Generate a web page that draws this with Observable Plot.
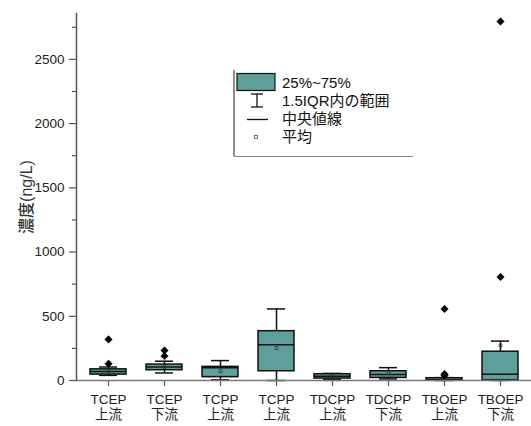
<!DOCTYPE html>
<html>
<head>
<meta charset="utf-8">
<script src="https://cdn.jsdelivr.net/npm/d3@7"></script>
<script src="https://cdn.jsdelivr.net/npm/@observablehq/plot@0.6"></script>
<style>
  body { margin: 0; background: white; }
  #wrap { position: relative; width: 531px; height: 426px; }
  #legend { position: absolute; left: 0; top: 0; }
</style>
</head>
<body>
<div id="wrap"></div>
<script>
// ---- data ----
const groups = ["TCEP\n上流","TCEP\n下流","TCPP\n上流","TCPP\n上流","TDCPP\n上流","TDCPP\n下流","TBOEP\n上流","TBOEP\n下流"];
const q1 =          [46,  80,  26,  72, 15, 20,  1,   2];
const median =      [70, 105, 100, 279, 33, 46,  8,  49];
const q3 =          [87, 124, 106, 384, 49, 72, 18, 224];
const whiskerLow =  [40,  59,   5,   0, 10, 12,  0,   0];
const whiskerHigh = [105, 150, 155, 557, 55, 100, 22, 307];
const means =       [72, 104,  72, 252, 32, 55, 10, 273];
const outlierGroup = [0, 0, 1, 1, 6, 6, 6, 7, 7];
const outlierValue = [131, 320, 190, 234, 38, 50, 557, 806, 2795];
const legendLabels = ["25%~75%", "1.5IQR内の範囲", "中央値線", "平均"];
const yTicks = [0, 500, 1000, 1500, 2000, 2500];
const yMinorTicks = [250, 750, 1250, 1750, 2250, 2750];

const idx = d3.range(groups.length);
const boxes = idx.map(i => ({i, q1: q1[i], q3: q3[i], med: median[i], lo: whiskerLow[i], hi: whiskerHigh[i], mean: means[i]}));
const outliers = outlierGroup.map((g, k) => ({i: g, v: outlierValue[k]}));

const teal = "#5e9e9b";
const font = "'Liberation Sans', 'Noto Sans CJK JP', sans-serif";

const chart = Plot.plot({
  width: 531, height: 426,
  marginLeft: 76, marginRight: 0, marginTop: 13, marginBottom: 46,
  style: {fontFamily: font, fontSize: "13.5px", color: "#222", background: "white", overflow: "visible"},
  x: {type: "band", domain: idx, padding: 0, axis: null},
  y: {domain: [0, 2857], axis: null},
  marks: [
    // whiskers
    Plot.ruleX(boxes, {x: "i", y1: "lo", y2: "q1", stroke: "#111", strokeWidth: 1.5}),
    Plot.ruleX(boxes, {x: "i", y1: "q3", y2: "hi", stroke: "#111", strokeWidth: 1.5}),
    Plot.tickY(boxes, {x: "i", y: "hi", stroke: "#111", strokeWidth: 1.5, insetLeft: 19, insetRight: 19}),
    Plot.tickY(boxes, {x: "i", y: "lo", stroke: "#111", strokeWidth: 1.5, insetLeft: 19, insetRight: 19}),
    // boxes
    Plot.barY(boxes, {x: "i", y1: "q1", y2: "q3", fill: teal, stroke: "#111", strokeWidth: 1.5, insetLeft: 10, insetRight: 10}),
    Plot.tickY(boxes, {x: "i", y: "med", stroke: "#111", strokeWidth: 1.5, insetLeft: 10, insetRight: 10}),
    Plot.dot(boxes, {x: "i", y: "mean", symbol: "square", r: 1.6, stroke: "#333", strokeWidth: 0.8, fill: "none"}),
    // outliers
    Plot.dot(outliers, {x: "i", y: "v", symbol: "diamond2", r: 3.4, fill: "#000", stroke: "#000", strokeWidth: 0.5}),
    // axes
    Plot.axisY({ticks: yTicks, tickFormat: d => String(d), tickSize: 7, tickPadding: 5, fontSize: 13.5, stroke: "#555", strokeWidth: 1.2, label: null}),
    Plot.axisY({ticks: yMinorTicks, tickSize: 4, stroke: "#555", strokeWidth: 1.2, tickFormat: () => "", label: null}),
    Plot.axisX({ticks: idx, tickFormat: i => groups[i], tickSize: 6, tickPadding: 6, fontSize: 13.5, lineHeight: 1.15, stroke: "#555", strokeWidth: 1.2, label: null}),
    Plot.frame({anchor: "left", stroke: "#555", strokeWidth: 1.5}),
    Plot.frame({anchor: "bottom", stroke: "#777", strokeWidth: 1.5}),
    Plot.text(["濃度(ng/L)"], {frameAnchor: "left", textAnchor: "middle", dx: -50, rotate: -90, fontSize: 16, fill: "#333", fontWeight: 500, style: "letter-spacing:1px"})
  ]
});
document.getElementById("wrap").appendChild(chart);

// legend overlay
const lg = d3.select("#wrap").append("svg").attr("id", "legend").attr("width", 531).attr("height", 426)
  .style("position", "absolute").style("left", 0).style("top", 0).style("pointer-events", "none")
  .style("font-family", font);
lg.append("line").attr("x1", 234).attr("x2", 234).attr("y1", 70).attr("y2", 156.5).attr("stroke", "#444").attr("stroke-width", 1.2);
lg.append("line").attr("x1", 234).attr("x2", 413).attr("y1", 156.5).attr("y2", 156.5).attr("stroke", "#888").attr("stroke-width", 1.2);
lg.append("rect").attr("x", 237).attr("y", 73.5).attr("width", 38).attr("height", 17).attr("fill", teal).attr("stroke", "#111").attr("stroke-width", 1.2);
// whisker symbol
lg.append("line").attr("x1", 251).attr("x2", 263).attr("y1", 94).attr("y2", 94).attr("stroke", "#111").attr("stroke-width", 1.3);
lg.append("line").attr("x1", 257).attr("x2", 257).attr("y1", 94).attr("y2", 107).attr("stroke", "#111").attr("stroke-width", 1.3);
lg.append("line").attr("x1", 251).attr("x2", 263).attr("y1", 107).attr("y2", 107).attr("stroke", "#111").attr("stroke-width", 1.3);
// median symbol
lg.append("line").attr("x1", 247).attr("x2", 268).attr("y1", 119.5).attr("y2", 119.5).attr("stroke", "#111").attr("stroke-width", 1.3);
// mean symbol
lg.append("rect").attr("x", 254.5).attr("y", 135.5).attr("width", 3).attr("height", 3).attr("fill", "none").attr("stroke", "#555").attr("stroke-width", 0.8);
legendLabels.forEach((t, k) => {
  lg.append("text").attr("x", 282).attr("y", 83 + k * 18).attr("dy", "0.35em")
    .attr("font-size", 15).attr("fill", "#111").text(t);
});
</script>
</body>
</html>
